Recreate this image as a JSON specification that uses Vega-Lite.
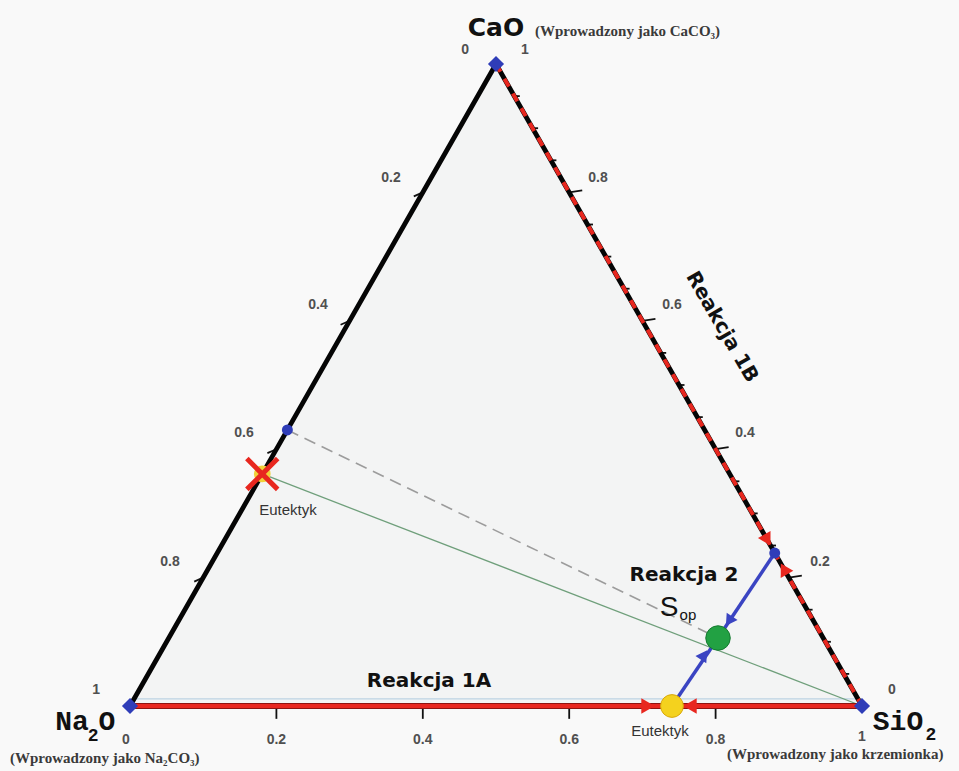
{
  "$schema": "https://vega.github.io/schema/vega-lite/v6.json",
  "width": 959,
  "height": 771,
  "padding": 0,
  "autosize": {"type": "none"},
  "background": "#f9f9f9",
  "config": {"view": {"stroke": null}},
  "datasets": {
    "triangle": [
      {"x": 0, "y": 0},
      {"x": 0.5, "y": 1},
      {"x": 1, "y": 0}
    ],
    "segments": [
      {"role": "left", "x": 0, "y": 0, "x2": 0.5, "y2": 1},
      {"role": "right", "x": 0.5, "y": 1, "x2": 1, "y2": 0},
      {"role": "base", "x": 0, "y": 0, "x2": 1, "y2": 0},
      {"role": "faint", "x": 0, "y": 0.011, "x2": 1, "y2": 0.011},
      {"role": "tie", "x": 0.1807, "y": 0.3614, "x2": 1, "y2": 0},
      {"role": "mix", "x": 0.215, "y": 0.43, "x2": 0.8033, "y2": 0.1059},
      {"role": "react2", "x": 0.8808, "y": 0.2383, "x2": 0.8033, "y2": 0.1059},
      {"role": "react2", "x": 0.7404, "y": 0, "x2": 0.8033, "y2": 0.1059},
      {"role": "tick", "x": 0.2, "y": -0.004, "x2": 0.2, "y2": -0.02},
      {"role": "tick", "x": 0.4, "y": -0.004, "x2": 0.4, "y2": -0.02},
      {"role": "tick", "x": 0.6, "y": -0.004, "x2": 0.6, "y2": -0.02},
      {"role": "tick", "x": 0.8, "y": -0.004, "x2": 0.8, "y2": -0.02},
      {"role": "tick", "x": 0.1, "y": 0.2, "x2": 0.0877, "y2": 0.1938},
      {"role": "tick", "x": 0.2, "y": 0.4, "x2": 0.1877, "y2": 0.3938},
      {"role": "tick", "x": 0.3, "y": 0.6, "x2": 0.2877, "y2": 0.5938},
      {"role": "tick", "x": 0.4, "y": 0.8, "x2": 0.3877, "y2": 0.7938},
      {"role": "tick", "x": 0.9, "y": 0.2, "x2": 0.9178, "y2": 0.2031},
      {"role": "tick", "x": 0.8, "y": 0.4, "x2": 0.8178, "y2": 0.4031},
      {"role": "tick", "x": 0.7, "y": 0.6, "x2": 0.7178, "y2": 0.6031},
      {"role": "tick", "x": 0.6, "y": 0.8, "x2": 0.6178, "y2": 0.8031},
      {"role": "minor", "x": 0.975, "y": 0.05, "x2": 0.9825, "y2": 0.05},
      {"role": "minor", "x": 0.95, "y": 0.1, "x2": 0.9575, "y2": 0.1},
      {"role": "minor", "x": 0.925, "y": 0.15, "x2": 0.9325, "y2": 0.15},
      {"role": "minor", "x": 0.875, "y": 0.25, "x2": 0.8825, "y2": 0.25},
      {"role": "minor", "x": 0.85, "y": 0.3, "x2": 0.8575, "y2": 0.3},
      {"role": "minor", "x": 0.825, "y": 0.35, "x2": 0.8325, "y2": 0.35},
      {"role": "minor", "x": 0.775, "y": 0.45, "x2": 0.7825, "y2": 0.45},
      {"role": "minor", "x": 0.75, "y": 0.5, "x2": 0.7575, "y2": 0.5},
      {"role": "minor", "x": 0.725, "y": 0.55, "x2": 0.7325, "y2": 0.55},
      {"role": "minor", "x": 0.675, "y": 0.65, "x2": 0.6825, "y2": 0.65},
      {"role": "minor", "x": 0.65, "y": 0.7, "x2": 0.6575, "y2": 0.7},
      {"role": "minor", "x": 0.625, "y": 0.75, "x2": 0.6325, "y2": 0.75},
      {"role": "minor", "x": 0.575, "y": 0.85, "x2": 0.5825, "y2": 0.85},
      {"role": "minor", "x": 0.55, "y": 0.9, "x2": 0.5575, "y2": 0.9},
      {"role": "minor", "x": 0.525, "y": 0.95, "x2": 0.5325, "y2": 0.95}
    ],
    "points": [
      {"role": "vertex", "name": "Na2O", "x": 0, "y": 0},
      {"role": "vertex", "name": "SiO2", "x": 1, "y": 0},
      {"role": "vertex", "name": "CaO", "x": 0.5, "y": 1},
      {"role": "dot", "name": "Na2O-CaO", "x": 0.215, "y": 0.43},
      {"role": "dot", "name": "CaO-SiO2", "x": 0.8808, "y": 0.2383},
      {"role": "mix", "name": "Sop", "x": 0.8033, "y": 0.1059},
      {"role": "eutBase", "name": "Eutektyk Na2O-SiO2", "x": 0.7404, "y": 0},
      {"role": "eutSide", "name": "Eutektyk Na2O-CaO", "x": 0.1807, "y": 0.3614}
    ],
    "heads": [
      {"id": "baseFromNa", "x": 0.7077, "y": 0},
      {"id": "baseFromSi", "x": 0.765, "y": 0},
      {"id": "edgeFromCa", "x": 0.8707, "y": 0.2586},
      {"id": "edgeFromSi", "x": 0.8933, "y": 0.2134},
      {"id": "toMixFromEdge", "x": 0.8183, "y": 0.1324},
      {"id": "toMixFromBase", "x": 0.7842, "y": 0.0794}
    ],
    "labels": [
      {"role": "tick", "text": "0", "x": -0.0055, "y": -0.053},
      {"role": "tick", "text": "0.2", "x": 0.2, "y": -0.053},
      {"role": "tick", "text": "0.4", "x": 0.4, "y": -0.053},
      {"role": "tick", "text": "0.6", "x": 0.6, "y": -0.053},
      {"role": "tick", "text": "0.8", "x": 0.8, "y": -0.053},
      {"role": "tick", "text": "1", "x": 1, "y": -0.048},
      {"role": "tick", "text": "0", "x": 1.041, "y": 0.025},
      {"role": "tick", "text": "0.2", "x": 0.9426, "y": 0.2243},
      {"role": "tick", "text": "0.4", "x": 0.8402, "y": 0.4252},
      {"role": "tick", "text": "0.6", "x": 0.7404, "y": 0.6246},
      {"role": "tick", "text": "0.8", "x": 0.6393, "y": 0.8224},
      {"role": "tick", "text": "1", "x": 0.5396, "y": 1.0218},
      {"role": "tick", "text": "0", "x": 0.4577, "y": 1.0218},
      {"role": "tick", "text": "0.2", "x": 0.3566, "y": 0.8224},
      {"role": "tick", "text": "0.4", "x": 0.2568, "y": 0.6246},
      {"role": "tick", "text": "0.6", "x": 0.1557, "y": 0.4252},
      {"role": "tick", "text": "0.8", "x": 0.0546, "y": 0.2243},
      {"role": "tick", "text": "1", "x": -0.0464, "y": 0.0249},
      {"role": "comp", "text": "Na", "x": -0.0792, "y": -0.0249},
      {"role": "comp", "text": "O", "x": -0.0314, "y": -0.0249},
      {"role": "comp", "text": "SiO", "x": 1.0492, "y": -0.0249},
      {"role": "sub", "text": "2", "x": -0.0505, "y": -0.046},
      {"role": "sub", "text": "2", "x": 1.094, "y": -0.0445},
      {"role": "top", "text": "CaO", "x": 0.5, "y": 1.0553},
      {"role": "note", "text": "(Wprowadzony jako CaCO₃)", "x": 0.5533, "y": 1.0514},
      {"role": "note", "text": "(Wprowadzony jako Na₂CO₃)", "x": -0.1639, "y": -0.081},
      {"role": "note", "text": "(Wprowadzony jako krzemionka)", "x": 0.8156, "y": -0.0745},
      {"role": "rx", "text": "Reakcja 1A", "x": 0.4085, "y": 0.0389},
      {"role": "rx", "text": "Reakcja 2", "x": 0.7568, "y": 0.204},
      {"role": "rxRot", "text": "Reakcja 1B", "x": 0.8087, "y": 0.5903},
      {"role": "S", "text": "S", "x": 0.7365, "y": 0.1526},
      {"role": "Ssub", "text": "op", "x": 0.7622, "y": 0.1417},
      {"role": "eut", "text": "Eutektyk", "x": 0.2158, "y": 0.3053},
      {"role": "eut", "text": "Eutektyk", "x": 0.724, "y": -0.039}
    ]
  },
  "encoding": {
    "x": {"field": "x", "type": "quantitative", "axis": null,
          "scale": {"domain": [-0.177596, 1.132514], "nice": false, "zero": false}},
    "y": {"field": "y", "type": "quantitative", "axis": null,
          "scale": {"domain": [-0.101246, 1.099688], "nice": false, "zero": false}}
  },
  "layer": [
    {
      "data": {"name": "triangle"},
      "mark": {"type": "area", "color": "#f3f4f4", "interpolate": "linear"},
      "encoding": {"y2": {"datum": 0}}
    },
    {
      "data": {"name": "segments"},
      "transform": [{"filter": "datum.role == 'faint'"}],
      "mark": {"type": "rule", "color": "#bcd3e3", "strokeWidth": 1.2},
      "encoding": {"x2": {"field": "x2"}, "y2": {"field": "y2"}}
    },
    {
      "data": {"name": "segments"},
      "transform": [{"filter": "datum.role == 'tie'"}],
      "mark": {"type": "rule", "color": "#6f9f7b", "strokeWidth": 1.3},
      "encoding": {"x2": {"field": "x2"}, "y2": {"field": "y2"}}
    },
    {
      "data": {"name": "segments"},
      "transform": [{"filter": "datum.role == 'mix'"}],
      "mark": {"type": "rule", "color": "#9c9c9c", "strokeWidth": 1.6, "strokeDash": [12, 7]},
      "encoding": {"x2": {"field": "x2"}, "y2": {"field": "y2"}}
    },
    {
      "data": {"name": "segments"},
      "transform": [{"filter": "datum.role == 'tick' || datum.role == 'minor'"}],
      "mark": {"type": "rule", "color": "#111111", "strokeWidth": 1.8},
      "encoding": {"x2": {"field": "x2"}, "y2": {"field": "y2"}}
    },
    {
      "data": {"name": "segments"},
      "transform": [{"filter": "datum.role == 'left' || datum.role == 'right'"}],
      "mark": {"type": "rule", "color": "#050505", "strokeWidth": 4.8, "strokeCap": "round"},
      "encoding": {"x2": {"field": "x2"}, "y2": {"field": "y2"}}
    },
    {
      "data": {"name": "segments"},
      "transform": [{"filter": "datum.role == 'right'"}],
      "mark": {"type": "rule", "color": "#e8271f", "strokeWidth": 4, "strokeDash": [9, 8]},
      "encoding": {"x2": {"field": "x2"}, "y2": {"field": "y2"}}
    },
    {
      "data": {"name": "segments"},
      "transform": [{"filter": "datum.role == 'base'"}],
      "mark": {"type": "rule", "color": "#8e1410", "strokeWidth": 6},
      "encoding": {"x2": {"field": "x2"}, "y2": {"field": "y2"}}
    },
    {
      "data": {"name": "segments"},
      "transform": [{"filter": "datum.role == 'base'"}],
      "mark": {"type": "rule", "color": "#e8271f", "strokeWidth": 4},
      "encoding": {"x2": {"field": "x2"}, "y2": {"field": "y2"}}
    },
    {
      "data": {"name": "segments"},
      "transform": [{"filter": "datum.role == 'react2'"}],
      "mark": {"type": "rule", "color": "#3a44c2", "strokeWidth": 3.5},
      "encoding": {"x2": {"field": "x2"}, "y2": {"field": "y2"}}
    },
    {
      "data": {"name": "heads"},
      "transform": [{"filter": "datum.id == 'baseFromNa'"}],
      "mark": {"type": "point", "shape": "triangle-up", "filled": true, "color": "#e8271f", "opacity": 1, "size": 240, "angle": 90}
    },
    {
      "data": {"name": "heads"},
      "transform": [{"filter": "datum.id == 'baseFromSi'"}],
      "mark": {"type": "point", "shape": "triangle-up", "filled": true, "color": "#e8271f", "opacity": 1, "size": 240, "angle": 270}
    },
    {
      "data": {"name": "heads"},
      "transform": [{"filter": "datum.id == 'edgeFromCa'"}],
      "mark": {"type": "point", "shape": "triangle-up", "filled": true, "color": "#e8271f", "opacity": 1, "size": 210, "angle": 150.3}
    },
    {
      "data": {"name": "heads"},
      "transform": [{"filter": "datum.id == 'edgeFromSi'"}],
      "mark": {"type": "point", "shape": "triangle-up", "filled": true, "color": "#e8271f", "opacity": 1, "size": 210, "angle": 330.3}
    },
    {
      "data": {"name": "heads"},
      "transform": [{"filter": "datum.id == 'toMixFromEdge'"}],
      "mark": {"type": "point", "shape": "triangle-up", "filled": true, "color": "#3a44c2", "opacity": 1, "size": 170, "angle": 213.8}
    },
    {
      "data": {"name": "heads"},
      "transform": [{"filter": "datum.id == 'toMixFromBase'"}],
      "mark": {"type": "point", "shape": "triangle-up", "filled": true, "color": "#3a44c2", "opacity": 1, "size": 170, "angle": 34.1}
    },
    {
      "data": {"name": "points"},
      "transform": [{"filter": "datum.role == 'vertex'"}],
      "mark": {"type": "point", "shape": "diamond", "filled": true, "color": "#2f3db8", "opacity": 1, "size": 260}
    },
    {
      "data": {"name": "points"},
      "transform": [{"filter": "datum.role == 'dot'"}],
      "mark": {"type": "point", "shape": "circle", "filled": true, "color": "#2f3db8", "opacity": 1, "size": 120}
    },
    {
      "data": {"name": "points"},
      "transform": [{"filter": "datum.role == 'mix'"}],
      "mark": {"type": "point", "shape": "circle", "filled": true, "fill": "#22a143", "stroke": "#157a30", "strokeWidth": 1, "opacity": 1, "size": 600}
    },
    {
      "data": {"name": "points"},
      "transform": [{"filter": "datum.role == 'eutBase'"}],
      "mark": {"type": "point", "shape": "circle", "filled": true, "fill": "#f4d21e", "stroke": "#d9a80c", "strokeWidth": 1, "opacity": 1, "size": 520}
    },
    {
      "data": {"name": "points"},
      "transform": [{"filter": "datum.role == 'eutSide'"}],
      "mark": {"type": "point", "shape": "circle", "filled": true, "fill": "#f1d23a", "opacity": 1, "size": 280}
    },
    {
      "data": {"name": "points"},
      "transform": [{"filter": "datum.role == 'eutSide'"}],
      "mark": {"type": "point", "shape": "M-1,-1L1,1M1,-1L-1,1", "filled": false, "stroke": "#e8271f", "strokeWidth": 5, "opacity": 1, "size": 950}
    },
    {
      "data": {"name": "labels"},
      "transform": [{"filter": "datum.role == 'tick'"}],
      "mark": {"type": "text", "font": "Liberation Sans", "fontSize": 14, "fontWeight": "bold", "color": "#505050", "align": "center", "baseline": "middle"},
      "encoding": {"text": {"field": "text"}}
    },
    {
      "data": {"name": "labels"},
      "transform": [{"filter": "datum.role == 'comp'"}],
      "mark": {"type": "text", "font": "Liberation Mono", "fontSize": 28, "fontWeight": "bold", "color": "#111111", "align": "center", "baseline": "middle"},
      "encoding": {"text": {"field": "text"}}
    },
    {
      "data": {"name": "labels"},
      "transform": [{"filter": "datum.role == 'sub'"}],
      "mark": {"type": "text", "font": "Liberation Mono", "fontSize": 18, "fontWeight": "bold", "color": "#111111", "align": "center", "baseline": "middle"},
      "encoding": {"text": {"field": "text"}}
    },
    {
      "data": {"name": "labels"},
      "transform": [{"filter": "datum.role == 'top'"}],
      "mark": {"type": "text", "font": "DejaVu Sans", "fontSize": 25, "fontWeight": "bold", "color": "#111111", "align": "center", "baseline": "middle"},
      "encoding": {"text": {"field": "text"}}
    },
    {
      "data": {"name": "labels"},
      "transform": [{"filter": "datum.role == 'note'"}],
      "mark": {"type": "text", "font": "Liberation Serif", "fontSize": 15, "fontWeight": "bold", "color": "#3a3a3a", "align": "left", "baseline": "middle"},
      "encoding": {"text": {"field": "text"}}
    },
    {
      "data": {"name": "labels"},
      "transform": [{"filter": "datum.role == 'rx'"}],
      "mark": {"type": "text", "font": "DejaVu Sans", "fontSize": 20, "fontWeight": "bold", "color": "#111111", "align": "center", "baseline": "middle"},
      "encoding": {"text": {"field": "text"}}
    },
    {
      "data": {"name": "labels"},
      "transform": [{"filter": "datum.role == 'rxRot'"}],
      "mark": {"type": "text", "font": "DejaVu Sans", "fontSize": 20, "fontWeight": "bold", "color": "#111111", "align": "center", "baseline": "middle", "angle": 60},
      "encoding": {"text": {"field": "text"}}
    },
    {
      "data": {"name": "labels"},
      "transform": [{"filter": "datum.role == 'S'"}],
      "mark": {"type": "text", "font": "Liberation Sans", "fontSize": 28, "color": "#111111", "align": "center", "baseline": "middle"},
      "encoding": {"text": {"field": "text"}}
    },
    {
      "data": {"name": "labels"},
      "transform": [{"filter": "datum.role == 'Ssub'"}],
      "mark": {"type": "text", "font": "Liberation Sans", "fontSize": 15, "color": "#111111", "align": "center", "baseline": "middle"},
      "encoding": {"text": {"field": "text"}}
    },
    {
      "data": {"name": "labels"},
      "transform": [{"filter": "datum.role == 'eut'"}],
      "mark": {"type": "text", "font": "Liberation Sans", "fontSize": 15, "color": "#333333", "align": "center", "baseline": "middle"},
      "encoding": {"text": {"field": "text"}}
    }
  ]
}
